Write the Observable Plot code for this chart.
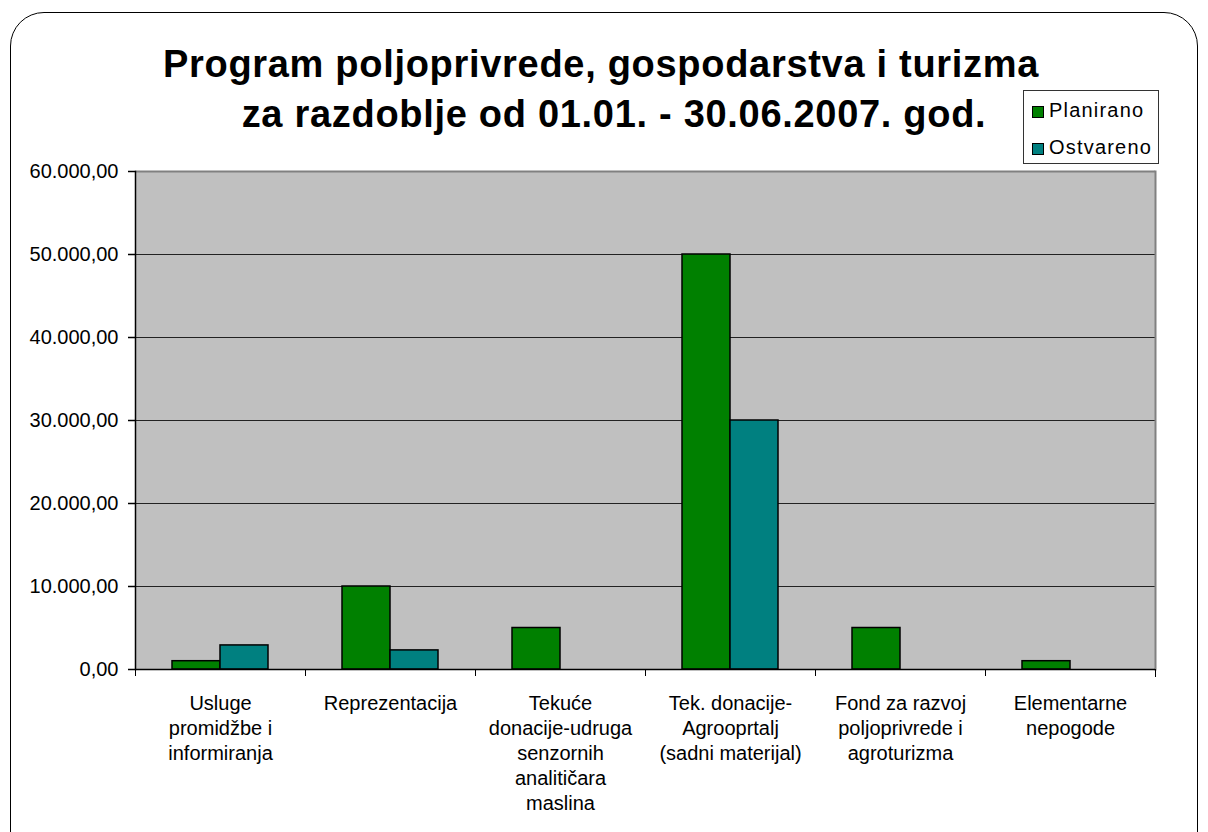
<!DOCTYPE html>
<html><head><meta charset="utf-8">
<script src="https://cdn.jsdelivr.net/npm/d3@7"></script>
<script src="https://cdn.jsdelivr.net/npm/@observablehq/plot@0.6"></script>
<style>
body{margin:0;background:#fff;width:1208px;height:832px;overflow:hidden;position:relative;font-family:"Liberation Sans",Arial,sans-serif;}
#border{position:absolute;left:10px;top:12px;width:1186px;height:900px;border:1.5px solid #000;border-radius:34px;}
#chart{position:absolute;left:0;top:0;}
.title{position:absolute;font-weight:bold;font-size:38px;letter-spacing:0.7px;white-space:nowrap;line-height:1;transform:translateX(-50%);}
#legend{position:absolute;left:1023px;top:90px;width:134px;height:72px;border:1px solid #333;background:#fff;}
.item{position:absolute;left:8px;font-size:20px;line-height:1;letter-spacing:1.2px;white-space:nowrap;}
.sw{position:absolute;left:0;width:10px;height:10px;border:1px solid #000;}
.item span.t{position:absolute;left:17px;top:0;}
</style></head>
<body>
<div id="border"></div>
<div id="chart"></div>
<div class="title" style="left:601px;top:45px;">Program poljoprivrede, gospodarstva i turizma</div>
<div class="title" style="left:614px;top:95px;">za razdoblje od 01.01. - 30.06.2007. god.</div>
<div id="legend"></div>
<script>
const categories = [
  "Usluge promidžbe i informiranja",
  "Reprezentacija",
  "Tekuće donacije-udruga senzornih analitičara maslina",
  "Tek. donacije-Agrooprtalj (sadni materijal)",
  "Fond za razvoj poljoprivrede i agroturizma",
  "Elementarne nepogode"
];
const categoryLabels = [
  "Usluge\npromidžbe i\ninformiranja",
  "Reprezentacija",
  "Tekuće\ndonacije-udruga\nsenzornih\nanalitičara\nmaslina",
  "Tek. donacije-\nAgrooprtalj\n(sadni materijal)",
  "Fond za razvoj\npoljoprivrede i\nagroturizma",
  "Elementarne\nnepogode"
];
const series = ["Planirano", "Ostvareno"];
const planirano = [1000, 10000, 5000, 50000, 5000, 1000];
const ostvareno = [2900, 2300, 0, 30000, 0, 0];
const yTicks = [0, 10000, 20000, 30000, 40000, 50000, 60000];
const seriesColors = ["#008000", "#008080"];

const rows = [];
categories.forEach((c, i) => {
  rows.push({category: c, series: "Planirano", value: planirano[i]});
  rows.push({category: c, series: "Ostvareno", value: ostvareno[i]});
});
const labelRows = categories.map((c, i) => ({category: c, label: categoryLabels[i]}));

const locale = d3.formatLocale({decimal: ",", thousands: ".", grouping: [3], currency: ["", ""]});
const fmt = locale.format(",.2f");

const chart = Plot.plot({
  width: 1208,
  height: 832,
  marginTop: 171,
  marginBottom: 163,
  marginLeft: 135,
  marginRight: 53,
  style: {fontFamily: "'Liberation Sans', Arial, sans-serif", fontSize: "20px", color: "#000", background: "transparent", overflow: "visible"},
  fx: {domain: categories, padding: 0},
  x: {domain: series, paddingInner: 0, paddingOuter: 0.75, axis: null},
  y: {domain: [0, 60000]},
  color: {domain: series, range: seriesColors},
  marks: [
    Plot.frame({facet: "super", fill: "#c0c0c0", stroke: null}),
    Plot.ruleY(yTicks.filter(d => d > 0 && d < 60000), {stroke: "#222", strokeWidth: 1}),
    Plot.ruleY([60000], {stroke: "#808080", strokeWidth: 2}),
    Plot.frame({facet: "super", anchor: "right", stroke: "#808080", strokeWidth: 2}),
    Plot.barY(rows, {fx: "category", x: "series", y: "value", fill: "series", stroke: "#000", strokeWidth: 1.5, filter: d => d.value > 0}),
    Plot.ruleY([0], {stroke: "#000", strokeWidth: 1.5}),
    Plot.axisFx({anchor: "bottom", tickSize: 7, tickFormat: () => "", label: null, dx: -85, stroke: "#000"}),
    Plot.frame({facet: "super", anchor: "right", stroke: "#000", strokeWidth: 1, insetTop: 498, insetBottom: -7}),
    Plot.frame({facet: "super", anchor: "left", stroke: "#000", strokeWidth: 1.5}),
    Plot.axisY({ticks: yTicks, tickFormat: fmt, tickSize: 7, tickPadding: 10, label: null, fontSize: 20, stroke: "#000", strokeWidth: 1.5, style: {letterSpacing: "0.7px"}}),
    Plot.text(labelRows, {fx: "category", text: "label", frameAnchor: "bottom", lineAnchor: "top", dy: 23, lineHeight: 1.25, fontSize: 20, fill: "#000", style: {letterSpacing: "0.9px"}})
  ]
});
document.getElementById("chart").appendChild(chart);

// legend
const legend = document.getElementById("legend");
series.forEach((s, i) => {
  const item = document.createElement("div");
  item.className = "item";
  item.style.top = (9 + i * 37) + "px";
  const sw = document.createElement("div");
  sw.className = "sw";
  sw.style.top = "6px";
  sw.style.background = seriesColors[i];
  const t = document.createElement("span");
  t.className = "t";
  t.textContent = s;
  item.appendChild(sw);
  item.appendChild(t);
  legend.appendChild(item);
});
</script>
</body></html>
